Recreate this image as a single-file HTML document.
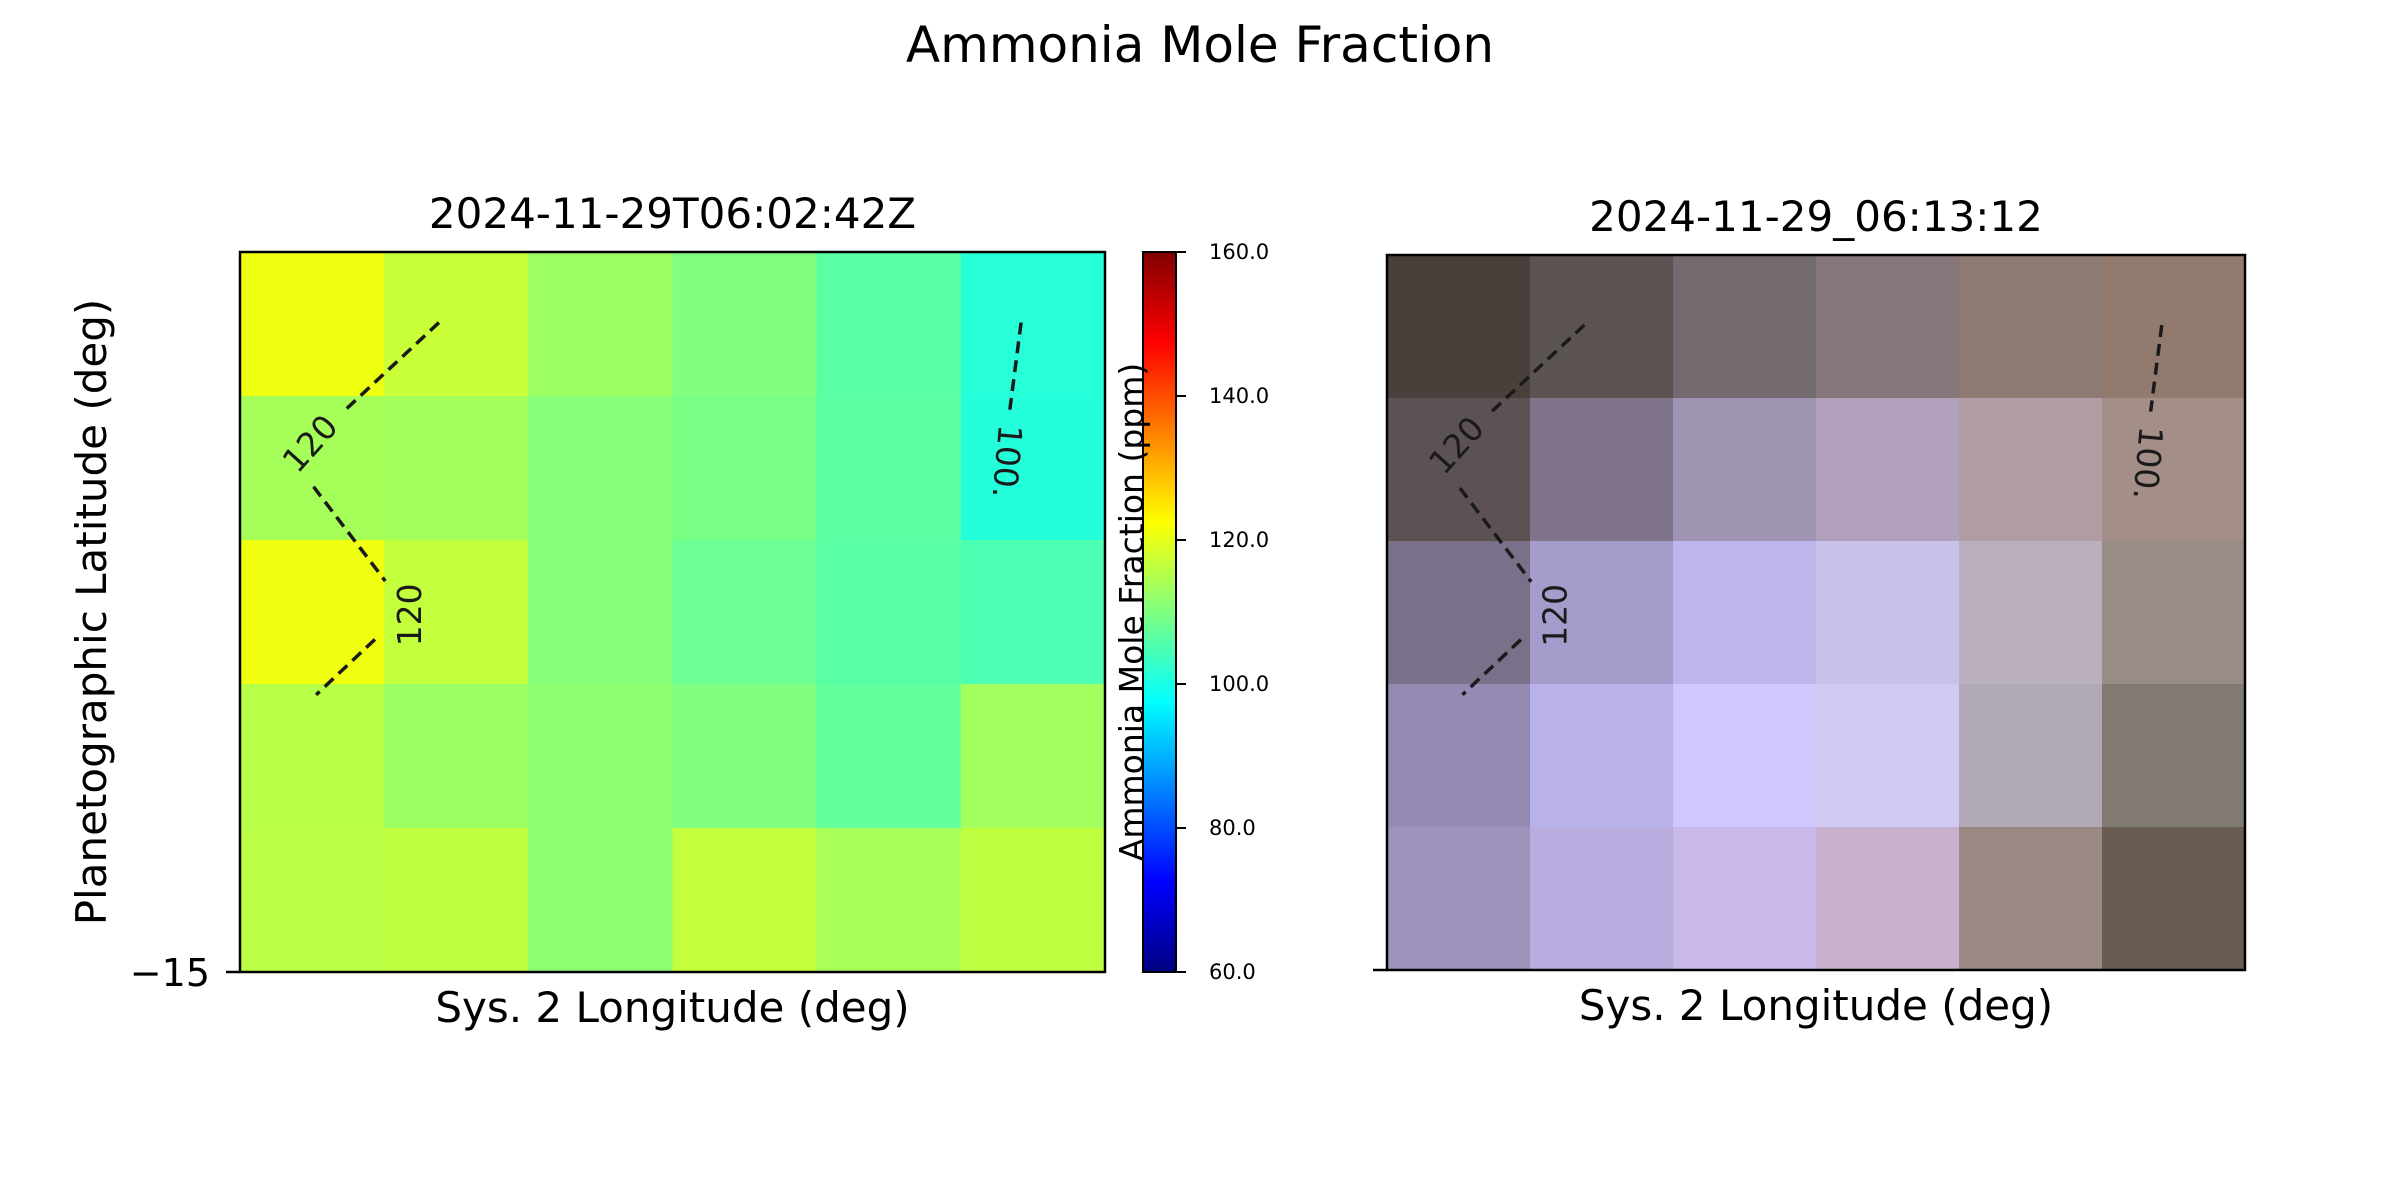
<!DOCTYPE html>
<html><head><meta charset="utf-8"><style>
html,body{margin:0;padding:0;background:#fff;}
svg{display:block;font-family:"DejaVu Sans","Liberation Sans",sans-serif;}
</style></head><body>
<svg id="fig" width="2400" height="1200" viewBox="0 0 2400 1200" xmlns="http://www.w3.org/2000/svg">
<rect width="2400" height="1200" fill="#fff"/>
<defs><linearGradient id="jet" x1="0" y1="1" x2="0" y2="0">
<stop offset="0" stop-color="#000080"/><stop offset="0.125" stop-color="#0000ff"/><stop offset="0.375" stop-color="#00ffff"/><stop offset="0.625" stop-color="#ffff00"/><stop offset="0.875" stop-color="#ff0000"/><stop offset="1" stop-color="#800000"/>
</linearGradient></defs>
<text x="1200" y="62" font-size="50" text-anchor="middle">Ammonia Mole Fraction</text>
<g id="left"></g>
<g id="right"></g>
<g id="cbar"></g>
</svg>
<script>
const NS='http://www.w3.org/2000/svg';
const leftValues=[
 [120.8,117.1,112.8,110.0,106.3,101.3],
 [113.8,113.6,110.6,109.5,106.5,101.0],
 [121.0,116.6,110.6,108.0,106.3,105.0],
 [115.5,112.8,111.3,110.0,107.1,113.4],
 [115.7,116.3,111.3,116.6,113.9,116.3]];
const rightColors=[
 ['#4a403b','#5c5452','#736a6f','#85767c','#8d7a73','#937a6f'],
 ['#5c5254','#80748a','#9f95b3','#b0a0bb','#af9ca5','#a38e88'],
 ['#7b7089','#a59ccb','#bcb6ec','#c8c2e8','#baafbd','#978c86'],
 ['#958ab2','#b8b1ea','#cfc8fd','#d0caf2','#b1aab6','#807a73'],
 ['#a093bb','#b9ade0','#c9b8ea','#c7b1cc','#9a8885','#685b51']];
const cbarTicks=[60,80,100,120,140,160];
const vmin=60,vmax=160;
function el(tag,attrs,parent){const e=document.createElementNS(NS,tag);for(const k in attrs)e.setAttribute(k,attrs[k]);parent.appendChild(e);return e;}
function jet(v){const t=Math.max(0,Math.min(1,(v-vmin)/(vmax-vmin)));
 const c=x=>Math.round(255*Math.max(0,Math.min(1,x)));
 return `rgb(${c(1.5-Math.abs(4*t-3))},${c(1.5-Math.abs(4*t-2))},${c(1.5-Math.abs(4*t-1))})`;}
const contourLines=[[[.230,.098],[.122,.219]],[[.085,.326],[.168,.457]],[[.156,.538],[.088,.615]],[[.903,.098],[.890,.219]]];
const contourLabels=[[.081,.266,-48,'120'],[.196,.504,-90,'120'],[.887,.291,95,'100.']];
function panel(g,ax,fill,title,name){
 const X=f=>ax.x+f*ax.w, Y=f=>ax.y+f*ax.h;
 const cw=ax.w/6,ch=ax.h/5;
 for(let r=0;r<5;r++)for(let c=0;c<6;c++){
  const e=el('rect',{x:ax.x+c*cw,y:ax.y+r*ch,width:cw+0.5,height:ch+0.5,fill:fill(r,c)},g);
  
  
 }
 contourLines.forEach((l,i)=>{const e=el('line',{x1:X(l[0][0]),y1:Y(l[0][1]),x2:X(l[1][0]),y2:Y(l[1][1]),stroke:'#1a1a1a','stroke-width':3.5,'stroke-dasharray':'12,7'},g);
  
  });
 contourLabels.forEach(l=>{const e=el('text',{x:X(l[0]),y:Y(l[1]),'font-size':33,fill:'#1a1a1a','text-anchor':'middle','dominant-baseline':'central',transform:`rotate(${l[2]} ${X(l[0])} ${Y(l[1])})`},g);e.textContent=l[3];
  
  });
 const b=el('rect',{x:ax.x,y:ax.y,width:ax.w,height:ax.h,fill:'none',stroke:'#000','stroke-width':2.5},g);
 
 
 const t=el('text',{x:ax.x+ax.w/2,y:ax.y-24,'font-size':42,'text-anchor':'middle'},g);t.textContent=title;
 
 
 const xl=el('text',{x:ax.x+ax.w/2,y:ax.y+ax.h+50,'font-size':42,'text-anchor':'middle'},g);xl.textContent='Sys. 2 Longitude (deg)';
 
 
 const tk=el('line',{x1:ax.x-14,y1:ax.y+ax.h,x2:ax.x,y2:ax.y+ax.h,stroke:'#000','stroke-width':2.5},g);
 
 
}
const L={x:240,y:252,w:865,h:720}, R={x:1387,y:255,w:858,h:715};
panel(document.getElementById('left'),L,(r,c)=>jet(leftValues[r][c]),'2024-11-29T06:02:42Z','left');
panel(document.getElementById('right'),R,(r,c)=>rightColors[r][c],'2024-11-29_06:13:12','right');
const lg=document.getElementById('left');
const yt=el('text',{x:210,y:986,'font-size':38,'text-anchor':'end'},lg);yt.textContent='\u221215';


const yl=el('text',{x:0,y:0,'font-size':42,'text-anchor':'middle',transform:'translate(106 612) rotate(-90)'},lg);yl.textContent='Planetographic Latitude (deg)';


const cg=document.getElementById('cbar');
const C={x:1143,y:252,w:33,h:720};
const cy=v=>C.y+C.h-(v-vmin)/(vmax-vmin)*C.h;
const cb=el('rect',{x:C.x,y:C.y,width:C.w,height:C.h,fill:'url(#jet)',stroke:'#000','stroke-width':2},cg);


cbarTicks.forEach(v=>{
 const l=el('line',{x1:C.x+C.w,y1:cy(v),x2:C.x+C.w+10,y2:cy(v),stroke:'#000','stroke-width':2},cg);
 
 
 const t=el('text',{x:C.x+C.w+33,y:cy(v)+7,'font-size':21},cg);t.textContent=v.toFixed(1);
 
 
});
const cl=el('text',{x:0,y:0,'font-size':33,'text-anchor':'middle',transform:'translate(1143 612) rotate(-90)'},cg);cl.textContent='Ammonia Mole Fraction (ppm)';


</script>
</body></html>
